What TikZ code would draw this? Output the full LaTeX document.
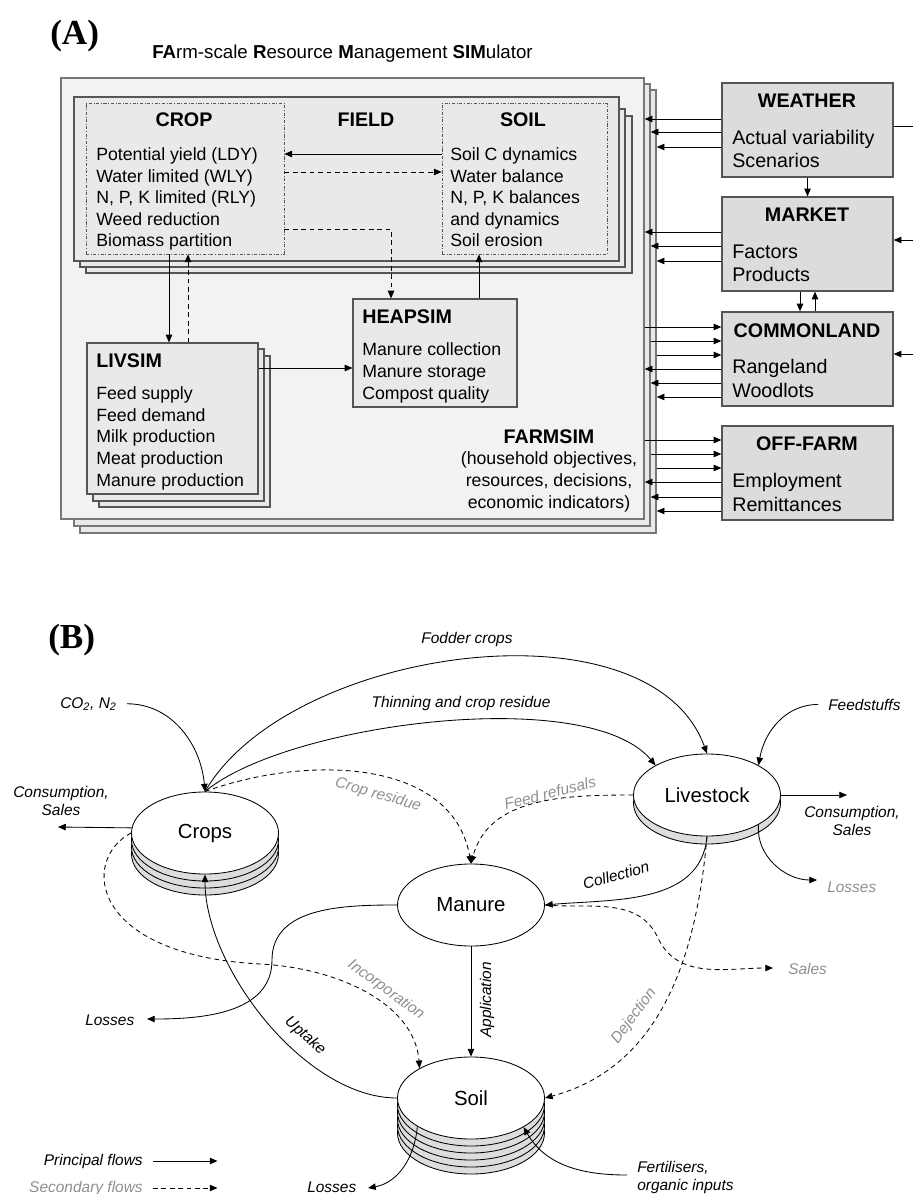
\documentclass[tikz,border=0pt]{standalone}
\usepackage{fontspec}
\setmainfont{Liberation Sans}
\newfontfamily\panelfont{Liberation Serif}
\usepackage{tikz}
\usetikzlibrary{shapes.geometric, arrows.meta, positioning, calc, fit}
\definecolor{FarmGray}{HTML}{F2F2F2}
\definecolor{FieldGray}{HTML}{E9E9E9}
\definecolor{ExtGray}{HTML}{DCDCDC}
\definecolor{DiscGray}{HTML}{DDDDDD}
\definecolor{EdgeGray}{HTML}{555555}
\definecolor{LabelGray}{HTML}{8F8F8F}
\newcommand{\txtbody}{\fontsize{12.6pt}{15.3pt}\selectfont}
\newcommand{\txtext}{\fontsize{14pt}{16.6pt}\selectfont}
\newcommand{\txthead}{\fontsize{14pt}{16.6pt}\selectfont\bfseries}
\newcommand{\txtsub}{\fontsize{13.3pt}{16pt}\selectfont}
\newcommand{\txtdisc}{\fontsize{14.5pt}{17pt}\selectfont}
\newcommand{\txtflow}{\fontsize{11pt}{12.4pt}\selectfont\itshape}
\newcommand{\txtpanel}{\fontsize{25pt}{30pt}\selectfont\panelfont\bfseries}
\tikzset{
  flow/.style={-{Triangle[length=5.5pt,width=4.6pt]}, line width=0.6pt},
  secflow/.style={flow, dash pattern=on 3.4pt off 2.6pt},
  farmlayer/.style={draw=EdgeGray!80, fill=FarmGray, line width=1pt, inner sep=0pt},
  farmback/.style={farmlayer, fill=FieldGray},
  fieldlayer/.style={draw=EdgeGray, fill=FieldGray, line width=0.8pt, inner sep=0pt},
  modbox/.style={fieldlayer},
  extbox/.style={draw=EdgeGray, fill=ExtGray, line width=0.9pt, inner sep=0pt},
  innerbox/.style={draw=EdgeGray, line width=0.5pt, dash pattern=on 2.2pt off 1.2pt on 0.6pt off 1.2pt, inner sep=0pt},
  headtxt/.style={font=\txthead, inner sep=0pt, anchor=base},
  bodytxt/.style={font=\txtbody, align=left, inner sep=0pt, anchor=base west},
  exttxt/.style={font=\txtext, align=left, inner sep=0pt, anchor=base west},
  flowlbl/.style={font=\txtflow, inner sep=0pt},
  seclbl/.style={flowlbl, text=LabelGray},
  disc/.style={ellipse, draw, line width=0.6pt, fill=white, minimum width=3.675cm, minimum height=2.05cm, inner sep=0pt, font=\txtdisc},
  discback/.style={disc, fill=DiscGray},
}
\begin{document}
\begin{tikzpicture}[x=0.025cm, y=-0.025cm]
        \useasboundingbox (0,0) rectangle (913,1194);

        % (A) FARMSIM and its modules
        \node[font=\txtpanel, inner sep=0pt, anchor=base west] (panA) at (50,45) {(A)};
        \node[font=\txtsub, inner sep=0pt, anchor=base west] (title) at (152,59) {\textbf{FA}rm-scale \textbf{R}esource \textbf{M}anagement \textbf{SIM}ulator};

        \node[farmback, fit={(80,90) (656,533)}] (farm3) {};
        \node[farmback, fit={(74,84) (650,526)}] (farm2) {};
        \node[farmlayer, fit={(61,78) (644,519)}] (farm) {};

        \node[fieldlayer, fit={(86,116) (632,273)}] (field3) {};
        \node[fieldlayer, fit={(80,109) (625,267)}] (field2) {};
        \node[fieldlayer, fit={(74,97) (619,261)}] (field) {};
        \node[innerbox, fit={(86,103) (284,254)}] (cropbox) {};
        \node[innerbox, fit={(442,103) (607,254)}] (soilbox) {};
        \node[headtxt] (crophd) at (184,127) {CROP};
        \node[headtxt] (fieldhd) at (366,127) {FIELD};
        \node[headtxt] (soilhd) at (523,127) {SOIL};
        % multi-line texts sit on the baseline of their last line
        \node[bodytxt] (croptxt) at (96,247) {Potential yield (LDY)\\Water limited (WLY)\\N, P, K limited (RLY)\\Weed reduction\\Biomass partition};
        \node[bodytxt] (soiltxt) at (450,247) {Soil C dynamics\\Water balance\\N, P, K balances\\and dynamics\\Soil erosion};

        \node[modbox, fit={(353,299) (517,407)}] (heapsim) {};
        \node[headtxt, anchor=base west] (heaphd) at (362,323) {HEAPSIM};
        \node[bodytxt] (heaptxt) at (362,399) {Manure collection\\Manure storage\\Compost quality};

        \node[modbox, fit={(99,356) (270,507)}] (livsim3) {};
        \node[modbox, fit={(93,349) (264,501)}] (livsim2) {};
        \node[modbox, fit={(87,343) (258,494)}] (livsim) {};
        \node[headtxt, anchor=base west] (livhd) at (96,367) {LIVSIM};
        \node[bodytxt] (livtxt) at (96,486) {Feed supply\\Feed demand\\Milk production\\Meat production\\Manure production};

        \node[headtxt] (farmhd) at (549,443) {FARMSIM};
        \node[bodytxt, align=center, anchor=base] (farmtxt) at (549,508) {(household objectives,\\resources, decisions,\\economic indicators)};

        % outside the farm
        \node[extbox, fit={(722,83) (893,177)}] (weather) {};
        \node[headtxt] (weatherhd) at (807,108) {WEATHER};
        \node[exttxt] (weathertxt) at (732,168) {Actual variability\\Scenarios};
        \node[extbox, fit={(722,197) (893,291)}] (market) {};
        \node[headtxt] (markethd) at (807,222) {MARKET};
        \node[exttxt] (markettxt) at (732,282) {Factors\\Products};
        \node[extbox, fit={(722,312) (893,406)}] (commonland) {};
        \node[headtxt] (commonhd) at (807,337) {COMMONLAND};
        \node[exttxt] (commontxt) at (732,397) {Rangeland\\Woodlots};
        \node[extbox, fit={(722,426) (893,520)}] (offfarm) {};
        \node[headtxt] (offfarmhd) at (807,450) {OFF-FARM};
        \node[exttxt] (offfarmtxt) at (732,511) {Employment\\Remittances};

        % links inside the farm
        \draw[flow] (soilbox.west |- 0,154) -- (cropbox.east |- 0,154);
        \draw[secflow] (cropbox.east |- 0,172) -- (soilbox.west |- 0,172);
        \draw[secflow] (cropbox.east |- 0,229) -| (heapsim.north -| 391,0);
        \draw[flow] (heapsim.north -| 479,0) -- (soilbox.south -| 479,0);
        \draw[flow] (cropbox.south -| 169,0) -- (livsim.north -| 169,0);
        \draw[secflow] (livsim.north -| 188,0) -- (cropbox.south -| 188,0);
        \draw[flow] (livsim.east |- 0,368) -- (heapsim.west |- 0,368);

        % links with the outside
        \draw[flow] (weather.west |- 0,119) -- (farm.east |- 0,119);
        \draw[flow] (weather.west |- 0,132) -- (farm2.east |- 0,132);
        \draw[flow] (weather.west |- 0,147) -- (farm3.east |- 0,147);
        \draw[flow] (market.west |- 0,232) -- (farm.east |- 0,232);
        \draw[flow] (market.west |- 0,246) -- (farm2.east |- 0,246);
        \draw[flow] (market.west |- 0,261) -- (farm3.east |- 0,261);
        \draw[flow] (farm.east |- 0,327) -- (commonland.west |- 0,327);
        \draw[flow] (farm2.east |- 0,341) -- (commonland.west |- 0,341);
        \draw[flow] (farm3.east |- 0,355) -- (commonland.west |- 0,355);
        \draw[flow] (commonland.west |- 0,369) -- (farm.east |- 0,369);
        \draw[flow] (commonland.west |- 0,383) -- (farm2.east |- 0,383);
        \draw[flow] (commonland.west |- 0,397) -- (farm3.east |- 0,397);
        \draw[flow] (farm.east |- 0,440) -- (offfarm.west |- 0,440);
        \draw[flow] (farm2.east |- 0,454) -- (offfarm.west |- 0,454);
        \draw[flow] (farm3.east |- 0,468) -- (offfarm.west |- 0,468);
        \draw[flow] (offfarm.west |- 0,482) -- (farm.east |- 0,482);
        \draw[flow] (offfarm.west |- 0,497) -- (farm2.east |- 0,497);
        \draw[flow] (offfarm.west |- 0,511) -- (farm3.east |- 0,511);
        \draw[flow] (weather.south) -- (market.north);
        \draw[flow] (market.south -| 800,0) -- (commonland.north -| 800,0);
        \draw[flow] (commonland.north -| 815,0) -- (market.south -| 815,0);
        \coordinate (wout) at (913,126);
        \coordinate (min) at (913,240);
        \coordinate (cin) at (913,354);
        \draw[line width=0.6pt] (weather.east |- wout) -- (wout);
        \draw[flow] (min) -- (market.east |- min);
        \draw[flow] (cin) -- (commonland.east |- cin);

        % (B) nutrient flows
        \node[font=\txtpanel, inner sep=0pt, anchor=base west] (panB) at (48,648) {(B)};

        \node[discback] (crops3) at (205,854) {};
        \node[discback] (crops2) at (205,847) {};
        \node[discback] (crops1) at (205,840) {};
        \node[disc] (crops) at (205,833) {Crops};
        \node[discback] (livestock1) at (707,803) {};
        \node[disc] (livestock) at (707,795) {Livestock};
        \node[disc] (manure) at (471,905) {Manure};
        \node[discback] (soil5) at (471,1133) {};
        \node[discback] (soil4) at (471,1126) {};
        \node[discback] (soil3) at (471,1119) {};
        \node[discback] (soil2) at (471,1112) {};
        \node[discback] (soil1) at (471,1105) {};
        \node[disc] (soil) at (471,1098) {Soil};

        \node[flowlbl, anchor=base west] (co2) at (60,708) {CO\textsubscript{2}, N\textsubscript{2}};
        \node[flowlbl, anchor=base] (fodder) at (467,643) {Fodder crops};
        \node[flowlbl, anchor=base] (thin) at (461,707) {Thinning and crop residue};
        \node[flowlbl, align=center, anchor=base] (cropcons) at (61,815) {Consumption,\\Sales};
        \node[flowlbl, align=center, anchor=base] (livcons) at (852,835) {Consumption,\\Sales};
        \node[flowlbl, anchor=base west] (feed) at (828,710) {Feedstuffs};
        \node[seclbl, anchor=base west] (livloss) at (827,892) {Losses};
        \node[seclbl, anchor=base west] (sales) at (788,974) {Sales};
        \node[flowlbl, anchor=base west] (manloss) at (85,1025) {Losses};
        \node[flowlbl, anchor=base west] (soilloss) at (307,1192) {Losses};
        \node[flowlbl, align=left, anchor=base west] (fert) at (637,1190) {Fertilisers,\\organic inputs};
        \node[seclbl, rotate=-16] (cresid) at (378,795) {Crop residue};
        \node[seclbl, rotate=14] (refusal) at (550,793) {Feed refusals};
        \node[flowlbl, rotate=15] (collect) at (616,875) {Collection};
        \node[seclbl, rotate=-36] (incorp) at (386,990) {Incorporation};
        \node[flowlbl, rotate=-42] (uptake) at (305,1036) {Uptake};
        \node[flowlbl, rotate=90] (applic) at (487,1000) {Application};
        \node[seclbl, rotate=53] (deject) at (634,1016) {Dejection};

        \coordinate (ccons) at (58,827);
        \coordinate (lcons) at (847,795);
        \coordinate (lloss) at (817,880);
        \coordinate (salesbend) at (658,938);
        \coordinate (salesend) at (773,968);
        \coordinate (mlossbend) at (272,960);
        \coordinate (mloss) at (147,1019);
        \coordinate (incbend) at (260,964);
        \coordinate (sloss) at (368,1188);
        \coordinate (fertstart) at (627,1175);

        % principal flows
        \draw[flow] ([xshift=7pt]co2.east) to[out=0,in=95] (crops.north);
        \draw[flow] (crops.north) to[out=60,in=110,looseness=0.85] (livestock.north);
        \draw[flow] (crops.north) to[out=40,in=130,looseness=0.6] (livestock.150);
        \draw[flow] (crops.176) -- (ccons);
        \draw[flow] ([xshift=-7pt]feed.west) to[out=180,in=80] (livestock.30);
        \draw[flow] (livestock.east) -- (lcons);
        \draw[flow] (livestock.-30) to[out=-95,in=180] (lloss);
        \draw[flow] (livestock.south) to[out=-95,in=5] (manure.east);
        \draw[flow] (manure.south) -- (soil.north);
        \draw[flow] (manure.west) to[out=180,in=90] (mlossbend) to[out=-90,in=0] (mloss);
        \draw[flow] (soil.west) to[out=180,in=-90,looseness=0.8] (crops.south);
        \draw[flow] (soil.208) to[out=-95,in=10] (sloss);
        \draw[flow] (fertstart) to[out=180,in=-60] (soil.-29);

        % secondary flows
        \draw[secflow] (crops.north) to[out=20,in=100] (manure.north);
        \draw[secflow] (livestock.west) to[out=180,in=75] (manure.north);
        \draw[secflow] (manure.east) to[out=-5,in=115] (salesbend) to[out=-65,in=180] (salesend);
        \draw[secflow] (livestock.south) to[out=-95,in=15] (soil.east);
        \draw[secflow] (crops.west) .. controls (80,860) and (90,955) .. (incbend) .. controls (340,968) and (415,1005) .. (soil.150);

        % legend
        \node[flowlbl, anchor=base east] (princ) at (143,1165) {Principal flows};
        \node[seclbl, anchor=base east] (second) at (143,1192) {Secondary flows};
        \draw[flow] ([xshift=7pt]princ.east) -- ([xshift=53pt]princ.east);
        \draw[secflow] ([xshift=7pt]second.east) -- ([xshift=53pt]second.east);
    \end{tikzpicture}
\end{document}
